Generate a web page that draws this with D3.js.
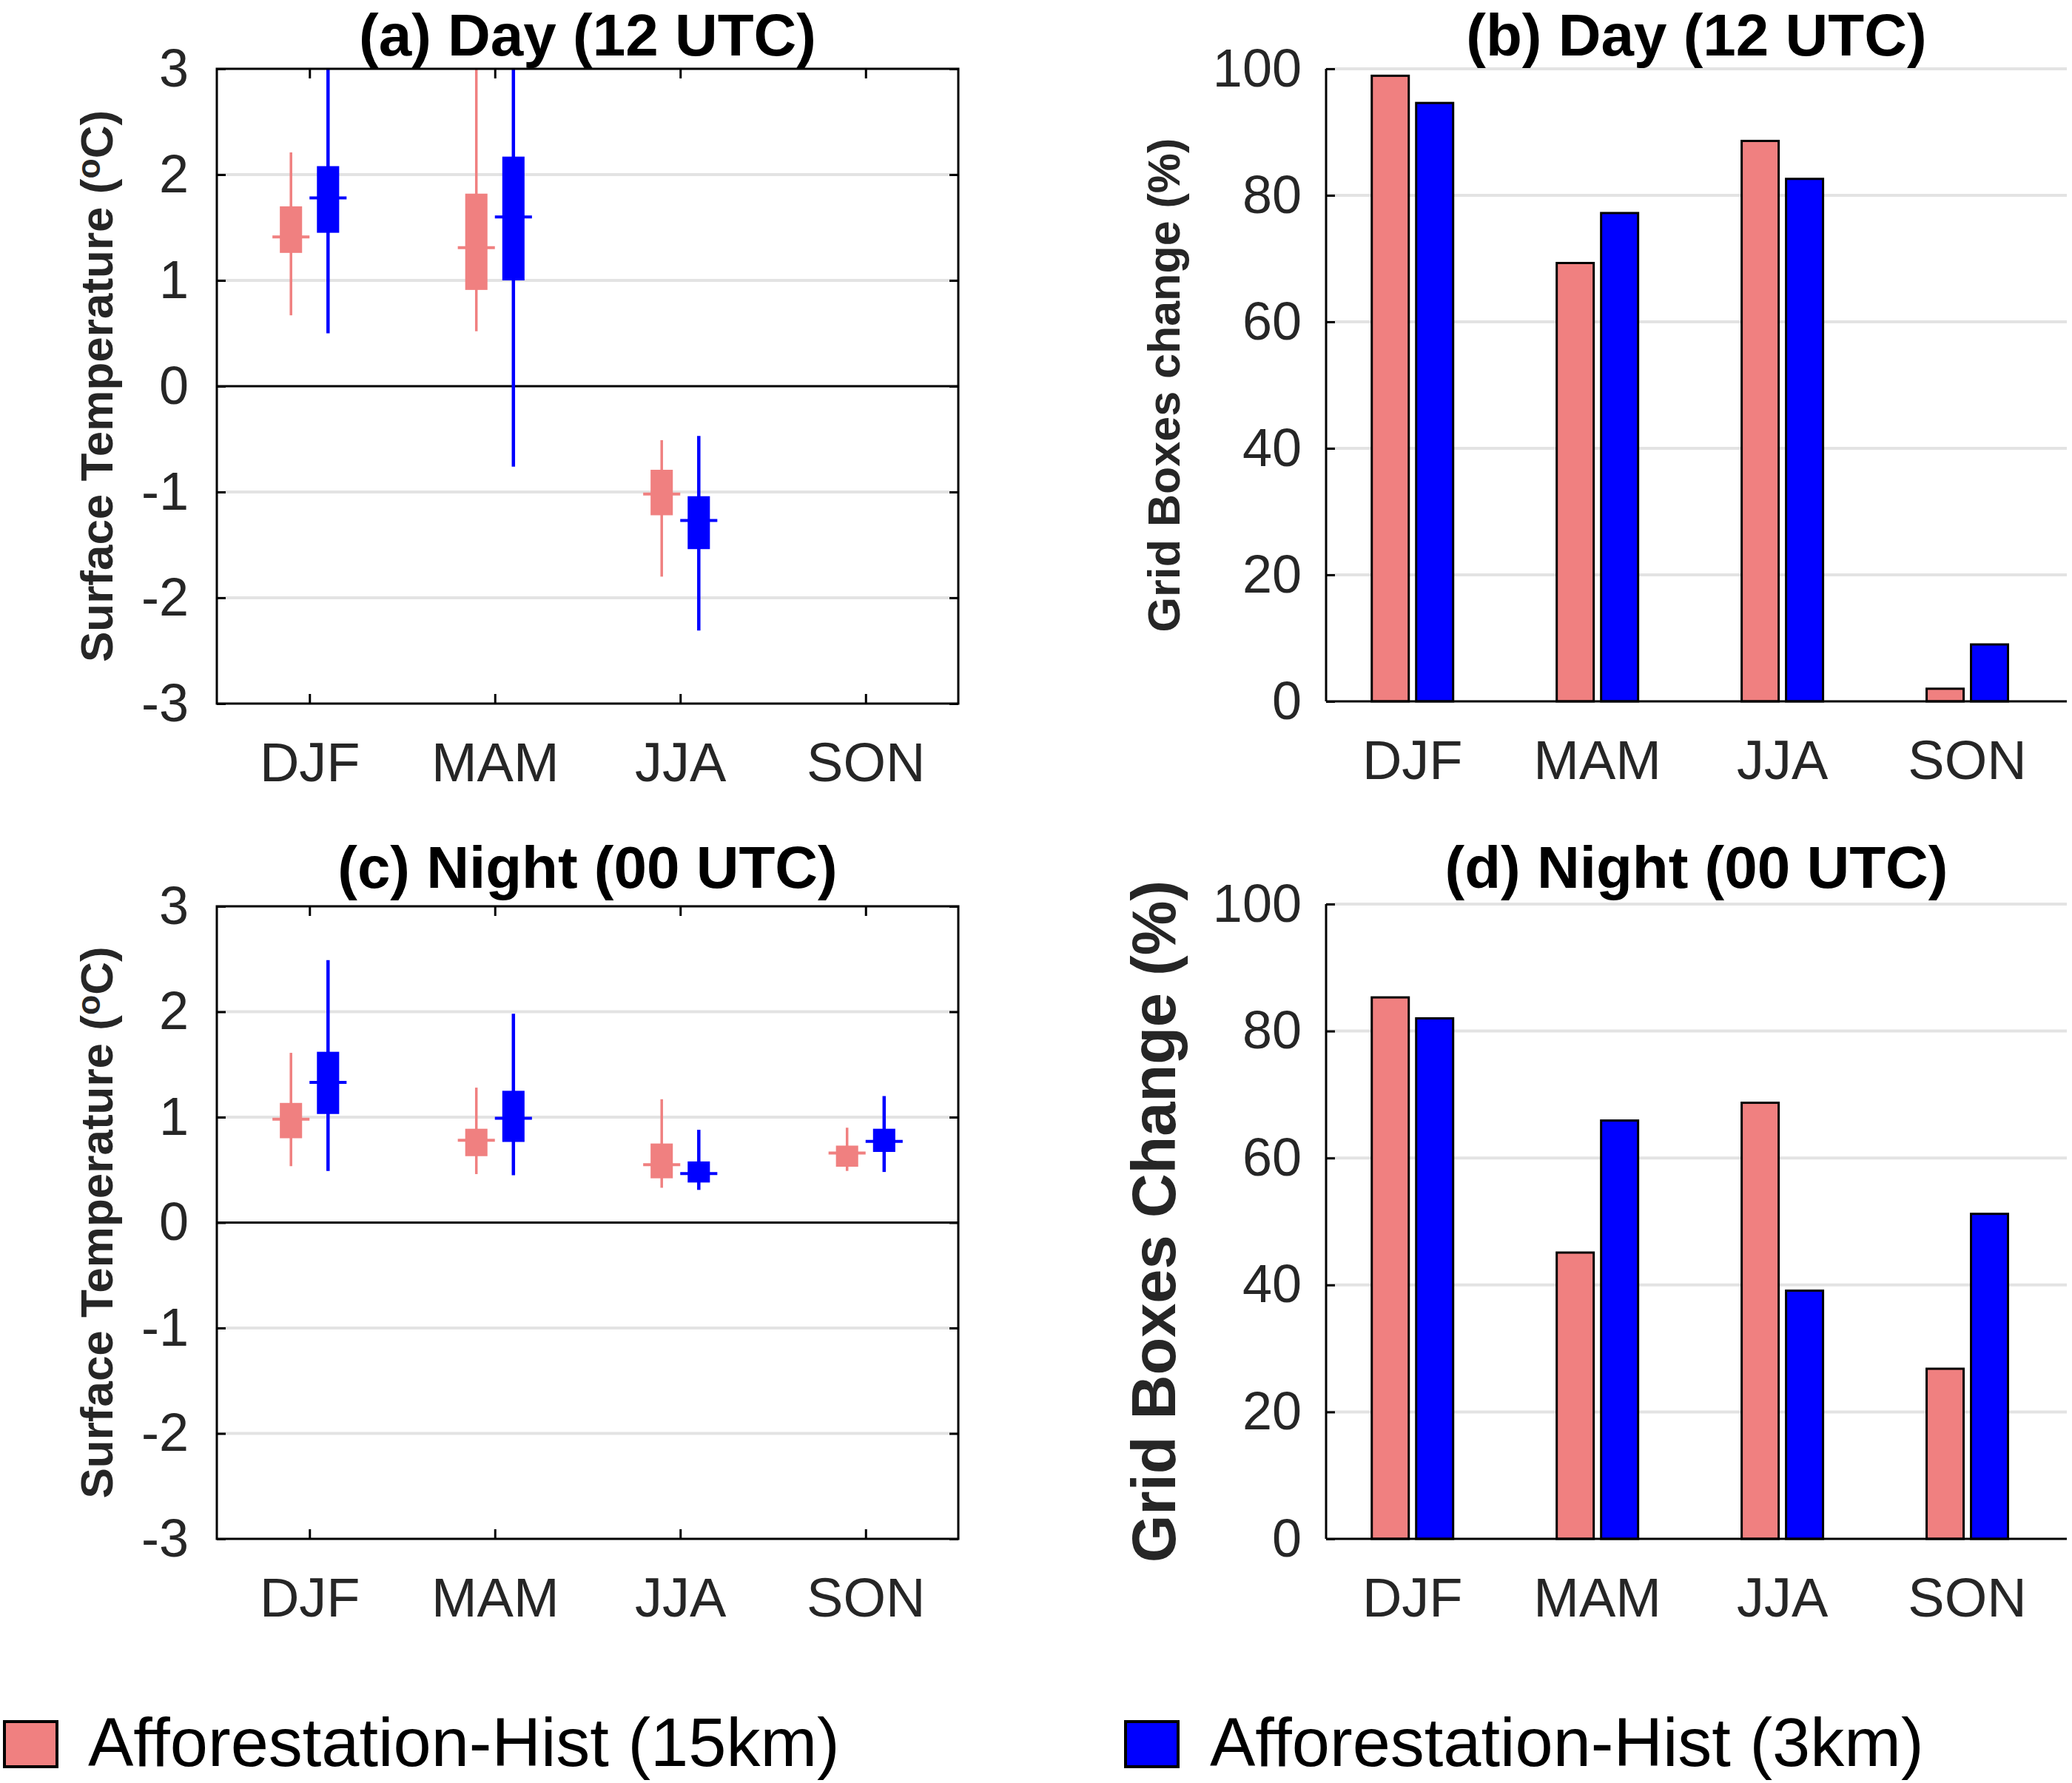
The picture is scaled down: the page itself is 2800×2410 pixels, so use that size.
<!DOCTYPE html>
<html>
<head>
<meta charset="utf-8">
<script src="https://cdn.jsdelivr.net/npm/d3@7"></script>
<style>
  body { margin: 0; background: #fff; }
  text { font-family: "Liberation Sans", Arial, Helvetica, sans-serif; }
</style>
</head>
<body>
<script>
// ---- data ----
var seasons = ["DJF", "MAM", "JJA", "SON"];
var seriesNames = ["Afforestation-Hist (15km)", "Afforestation-Hist (3km)"];
var seriesColors = ["#F08080", "#0000FF"];

// box stats per season: [whisker low, q1, median, q3, whisker high] (deg C)
var dayTemp15 = [[0.67, 1.26, 1.41, 1.70, 2.21], [0.52, 0.91, 1.31, 1.82, 3.3], [-1.80, -1.22, -1.02, -0.79, -0.51], null];
var dayTemp3 = [[0.50, 1.45, 1.78, 2.08, 3.3], [-0.76, 1.00, 1.60, 2.17, 3.3], [-2.31, -1.54, -1.27, -1.04, -0.47], null];
var nightTemp15 = [[0.535, 0.80, 0.98, 1.135, 1.61], [0.46, 0.63, 0.78, 0.89, 1.28], [0.33, 0.42, 0.55, 0.75, 1.17], [0.49, 0.53, 0.66, 0.73, 0.90]];
var nightTemp3 = [[0.49, 1.03, 1.33, 1.62, 2.49], [0.45, 0.765, 0.99, 1.25, 1.98], [0.31, 0.38, 0.465, 0.58, 0.88], [0.48, 0.67, 0.77, 0.89, 1.20]];

// grid boxes change (%)
var dayBoxes15 = [98.9, 69.3, 88.6, 2.0];
var dayBoxes3 = [94.6, 77.2, 82.6, 9.0];
var nightBoxes15 = [85.3, 45.1, 68.7, 26.8];
var nightBoxes3 = [82.0, 65.9, 39.1, 51.2];

var tempTicks = [-3, -2, -1, 0, 1, 2, 3];
var pctTicks = [0, 20, 40, 60, 80, 100];

// ---- drawing ----
var W = 2800, H = 2410;
var tickColor = "#262626";
var gridColor = "#E3E3E3";

var svg = d3.select("body").append("svg")
    .attr("width", W)
    .attr("height", H);

function addTitle(f, txt) {
    svg.append("text")
        .attr("x", (f.left + f.right) / 2)
        .attr("y", f.titleY)
        .attr("text-anchor", "middle")
        .style("font-size", "80px")
        .style("font-weight", "700")
        .attr("fill", "#000")
        .text(txt);
}

function addYLabel(f, parts, size) {
    var t = svg.append("text")
        .attr("transform", "translate(" + f.labelX + "," + (f.top + f.bottom) / 2 + ") rotate(-90)")
        .attr("text-anchor", "middle")
        .style("font-size", size + "px")
        .style("font-weight", "700")
        .attr("fill", tickColor);
    parts.forEach(function(p) {
        var s = t.append("tspan").text(p.t);
        if (p.sup) s.attr("dy", "-0.38em").style("font-size", (size * 0.72) + "px");
        if (p.down) s.attr("dy", "0.27em");
    });
}

function styleAxis(g, fontSize) {
    g.select(".domain").remove();
    g.selectAll(".tick line").attr("stroke", "#000").attr("stroke-width", 3);
    g.selectAll(".tick text")
        .attr("fill", tickColor)
        .style("font-size", fontSize + "px")
        .style("font-family", '"Liberation Sans", Arial, sans-serif');
}

// plain hyphen for negatives, as in the figure
function plainNum(d) { return String(d); }

function boxPanel(f, title, s15, s3) {
    var x = d3.scaleLinear().domain([0.5, 4.5]).range([f.left, f.right]);
    var y = d3.scaleLinear().domain([-3, 3]).range([f.bottom, f.top]);
    var clipId = "clip" + f.id;

    svg.append("clipPath").attr("id", clipId)
        .append("rect")
        .attr("x", f.left).attr("y", f.top)
        .attr("width", f.right - f.left).attr("height", f.bottom - f.top);

    // grid
    svg.append("g").selectAll("line")
        .data(tempTicks.filter(function(d) { return d !== 0 && Math.abs(d) < 3; }))
        .join("line")
        .attr("x1", f.left).attr("x2", f.right)
        .attr("y1", d => y(d)).attr("y2", d => y(d))
        .attr("stroke", gridColor).attr("stroke-width", 4);

    // zero line
    svg.append("line")
        .attr("x1", f.left).attr("x2", f.right)
        .attr("y1", y(0)).attr("y2", y(0))
        .attr("stroke", "#000").attr("stroke-width", 3);

    var plot = svg.append("g").attr("clip-path", "url(#" + clipId + ")");
    var offsets = [-0.1, 0.1];
    var whiskerW = [3.5, 4.5];
    [s15, s3].forEach(function(series, si) {
        var items = series.map(function(s, i) { return { s: s, pos: i + 1 + offsets[si] }; })
            .filter(function(d) { return d.s; });
        var g = plot.append("g");
        g.selectAll(".whisker").data(items).join("line")
            .attr("x1", d => x(d.pos)).attr("x2", d => x(d.pos))
            .attr("y1", d => y(d.s[0])).attr("y2", d => y(d.s[4]))
            .attr("stroke", seriesColors[si]).attr("stroke-width", whiskerW[si]);
        g.selectAll(".box").data(items).join("rect")
            .attr("x", d => x(d.pos - 0.06))
            .attr("width", d => x(d.pos + 0.06) - x(d.pos - 0.06))
            .attr("y", d => y(d.s[3]))
            .attr("height", d => y(d.s[1]) - y(d.s[3]))
            .attr("fill", seriesColors[si]);
        g.selectAll(".median").data(items).join("line")
            .attr("x1", d => x(d.pos - 0.1)).attr("x2", d => x(d.pos + 0.1))
            .attr("y1", d => y(d.s[2])).attr("y2", d => y(d.s[2]))
            .attr("stroke", seriesColors[si]).attr("stroke-width", 4);
    });

    // axes
    var gl = svg.append("g").attr("transform", "translate(" + f.left + ",0)")
        .call(d3.axisLeft(y).tickValues(tempTicks).tickSize(-12).tickPadding(38).tickFormat(plainNum));
    styleAxis(gl, 72);
    var gr = svg.append("g").attr("transform", "translate(" + f.right + ",0)")
        .call(d3.axisRight(y).tickValues(tempTicks).tickSize(-12).tickFormat(""));
    styleAxis(gr, 72);
    var gt = svg.append("g").attr("transform", "translate(0," + f.top + ")")
        .call(d3.axisTop(x).tickValues([1, 2, 3, 4]).tickSize(-13).tickFormat(""));
    styleAxis(gt, 72);
    var gb = svg.append("g").attr("transform", "translate(0," + f.bottom + ")")
        .call(d3.axisBottom(x).tickValues([1, 2, 3, 4]).tickSize(-13).tickPadding(52)
            .tickFormat(function(d) { return seasons[d - 1]; }));
    styleAxis(gb, 74);

    // frame
    svg.append("rect")
        .attr("x", f.left).attr("y", f.top)
        .attr("width", f.right - f.left).attr("height", f.bottom - f.top)
        .attr("fill", "none").attr("stroke", "#000").attr("stroke-width", 3);

    addTitle(f, title);
    addYLabel(f, [{ t: "Surface Temperature (" }, { t: "o", sup: true }, { t: "C)", down: true }], 62);
}

function barPanel(f, title, ylabel, ylabelSize, v15, v3) {
    var x = d3.scaleLinear().domain([0.535, 4.54]).range([f.left, f.right]);
    var y = d3.scaleLinear().domain([0, 100]).range([f.bottom, f.top]);

    svg.append("g").selectAll("line")
        .data(pctTicks.filter(function(d) { return d > 0; }))
        .join("line")
        .attr("x1", f.left).attr("x2", f.right)
        .attr("y1", d => y(d)).attr("y2", d => y(d))
        .attr("stroke", gridColor).attr("stroke-width", 4);

    var offsets = [-0.118, 0.122];
    [v15, v3].forEach(function(vals, si) {
        svg.append("g").selectAll("rect")
            .data(vals)
            .join("rect")
            .attr("x", (d, i) => x(i + 1 + offsets[si] - 0.1))
            .attr("width", (d, i) => x(i + 1 + offsets[si] + 0.1) - x(i + 1 + offsets[si] - 0.1))
            .attr("y", d => y(d))
            .attr("height", d => y(0) - y(d))
            .attr("fill", seriesColors[si])
            .attr("stroke", "#000")
            .attr("stroke-width", 3);
    });

    var gl = svg.append("g").attr("transform", "translate(" + f.left + ",0)")
        .call(d3.axisLeft(y).tickValues(pctTicks).tickSize(-12).tickPadding(33).tickFormat(plainNum));
    styleAxis(gl, 72);
    var gb = svg.append("g").attr("transform", "translate(0," + f.bottom + ")")
        .call(d3.axisBottom(x).tickValues([1, 2, 3, 4]).tickSize(0).tickPadding(52)
            .tickFormat(function(d) { return seasons[d - 1]; }));
    styleAxis(gb, 74);

    svg.append("line")
        .attr("x1", f.left).attr("x2", f.left)
        .attr("y1", f.top).attr("y2", f.bottom)
        .attr("stroke", "#000").attr("stroke-width", 3);
    svg.append("line")
        .attr("x1", f.left).attr("x2", f.right)
        .attr("y1", f.bottom).attr("y2", f.bottom)
        .attr("stroke", "#000").attr("stroke-width", 3);

    addTitle(f, title);
    addYLabel(f, [{ t: ylabel }], ylabelSize);
}

var frameA = { id: "a", left: 293, right: 1295, top: 93, bottom: 951, titleY: 75, labelX: 152 };
var frameB = { id: "b", left: 1792, right: 2793, top: 93, bottom: 948, titleY: 75, labelX: 1594 };
var frameC = { id: "c", left: 293, right: 1295, top: 1225, bottom: 2080, titleY: 1200, labelX: 152 };
var frameD = { id: "d", left: 1792, right: 2793, top: 1222, bottom: 2080, titleY: 1200, labelX: 1588 };

boxPanel(frameA, "(a) Day (12 UTC)", dayTemp15, dayTemp3);
barPanel(frameB, "(b) Day (12 UTC)", "Grid Boxes change (%)", 61, dayBoxes15, dayBoxes3);
boxPanel(frameC, "(c) Night (00 UTC)", nightTemp15, nightTemp3);
barPanel(frameD, "(d) Night (00 UTC)", "Grid Boxes Change (%)", 83, nightBoxes15, nightBoxes3);

// legend
var legend = [
    { x: 6, tx: 119 },
    { x: 1521, tx: 1635 }
];
legend.forEach(function(l, i) {
    svg.append("rect")
        .attr("x", l.x).attr("y", 2327)
        .attr("width", 71).attr("height", 61)
        .attr("fill", seriesColors[i])
        .attr("stroke", "#000").attr("stroke-width", 4);
    svg.append("text")
        .attr("x", l.tx).attr("y", 2387)
        .style("font-size", "92px")
        .attr("fill", "#000")
        .text(seriesNames[i]);
});
</script>
</body>
</html>
